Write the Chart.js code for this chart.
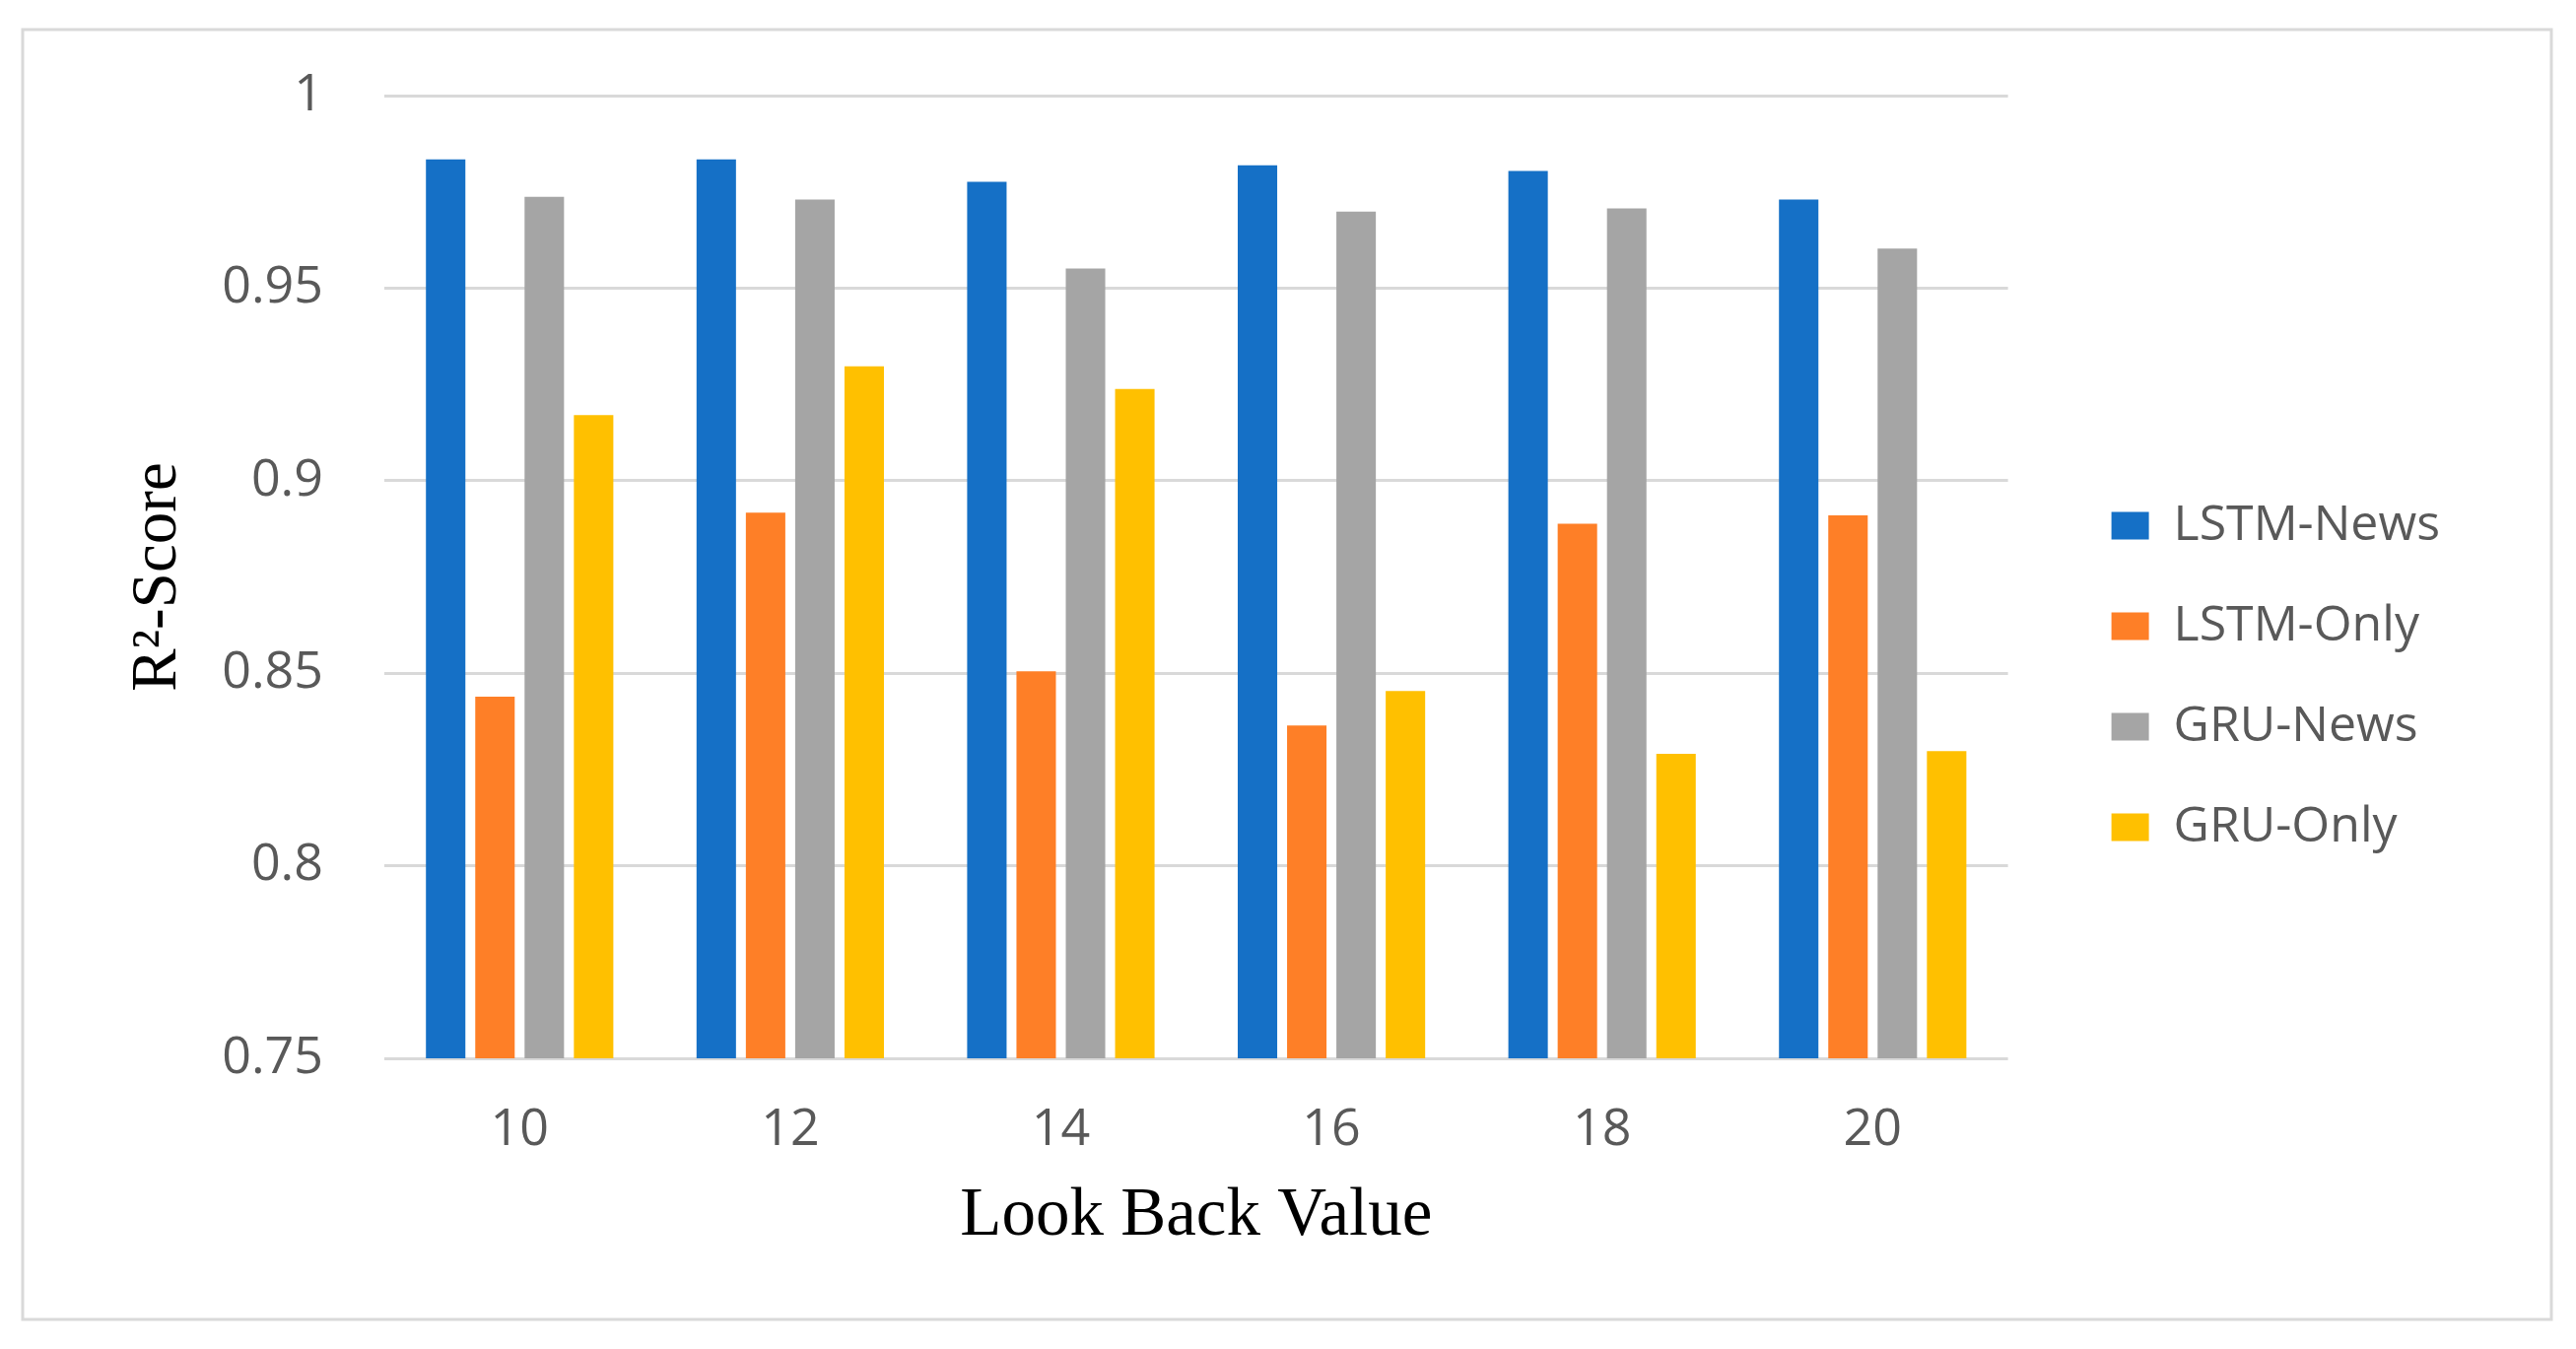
<!DOCTYPE html>
<html>
<head>
<meta charset="utf-8">
<script src="https://cdn.jsdelivr.net/npm/chart.js@4.4.1/dist/chart.umd.min.js"></script>
<style>
html,body{margin:0;padding:0;background:#fff;overflow:hidden}
#wrap{width:2614px;height:1369px;position:relative}
canvas{display:block}
</style>
</head>
<body>
<div id="wrap"><canvas id="c" width="2614" height="1369"></canvas></div>
<script>
// ---- data ----
const categories = ['10', '12', '14', '16', '18', '20'];
const seriesNames = ['LSTM-News', 'LSTM-Only', 'GRU-News', 'GRU-Only'];
const lstmNews = [0.9834, 0.9834, 0.9776, 0.9819, 0.9804, 0.9730];
const lstmOnly = [0.8439, 0.8917, 0.8505, 0.8364, 0.8888, 0.8910];
const gruNews  = [0.9737, 0.9730, 0.9551, 0.9699, 0.9707, 0.9603];
const gruOnly  = [0.9170, 0.9297, 0.9238, 0.8454, 0.8291, 0.8298];
const yTickValues = [0.75, 0.8, 0.85, 0.9, 0.95, 1];
const yTickLabels = ['0.75', '0.8', '0.85', '0.9', '0.95', '1'];
const xTitle = 'Look Back Value';
const yTitle = 'R\u00B2-Score';

const colors = ['#1570C6', '#FE7F27', '#A5A5A5', '#FFC000'];
const seriesValues = [lstmNews, lstmOnly, gruNews, gruOnly];

const frame = {
  id: 'frame',
  beforeDraw(chart) {
    const ctx = chart.ctx;
    ctx.save();
    ctx.fillStyle = '#ffffff';
    ctx.fillRect(0, 0, chart.width, chart.height);
    ctx.strokeStyle = '#d9d9d9';
    ctx.lineWidth = 3;
    ctx.strokeRect(23, 30, 2566, 1309);
    ctx.restore();
  }
};

new Chart(document.getElementById('c'), {
  type: 'bar',
  data: {
    labels: categories,
    datasets: seriesNames.map((name, i) => ({
      label: name,
      data: seriesValues[i],
      backgroundColor: colors[i],
      borderWidth: 0,
      categoryPercentage: 0.729,
      barPercentage: 0.8
    }))
  },
  options: {
    responsive: false,
    animation: false,
    devicePixelRatio: 1,
    layout: { padding: { top: 97, bottom: 93, left: 60, right: 128 } },
    plugins: {
      legend: {
        position: 'right',
        align: 'center',
        labels: {
          boxWidth: 38,
          boxHeight: 28,
          padding: 52,
          color: '#595959',
          font: { family: 'Open Sans', size: 50 }
        }
      },
      tooltip: { enabled: false }
    },
    scales: {
      x: {
        afterFit: s => { s.height = 202; },
        grid: { display: false, drawTicks: false },
        border: { display: false },
        ticks: {
          color: '#595959',
          padding: 42,
          font: { family: 'Open Sans', size: 52 }
        },
        title: {
          display: true,
          text: xTitle,
          color: '#000000',
          padding: { top: 15, bottom: 0 },
          font: { family: 'Liberation Serif', size: 69 }
        }
      },
      y: {
        position: 'left',
        min: 0.75,
        max: 1,
        afterBuildTicks: s => { s.ticks = yTickValues.map(v => ({ value: v })); },
        afterFit: s => { s.width = 330; },
        grid: { color: '#d9d9d9', lineWidth: 3, drawTicks: false },
        border: { display: false },
        ticks: {
          color: '#595959',
          padding: 62,
          font: { family: 'Open Sans', size: 52 },
          callback: (v, i) => yTickLabels[i]
        },
        title: {
          display: true,
          text: yTitle,
          color: '#000000',
          padding: { top: 62, bottom: 0 },
          font: { family: 'Liberation Serif', size: 65 }
        }
      },
      gap: {
        type: 'linear',
        position: 'right',
        display: true,
        grid: { display: false, drawTicks: false },
        border: { display: false },
        ticks: { display: false },
        afterFit: s => { s.width = 53; }
      }
    }
  },
  plugins: [frame]
});
</script>
</body>
</html>
